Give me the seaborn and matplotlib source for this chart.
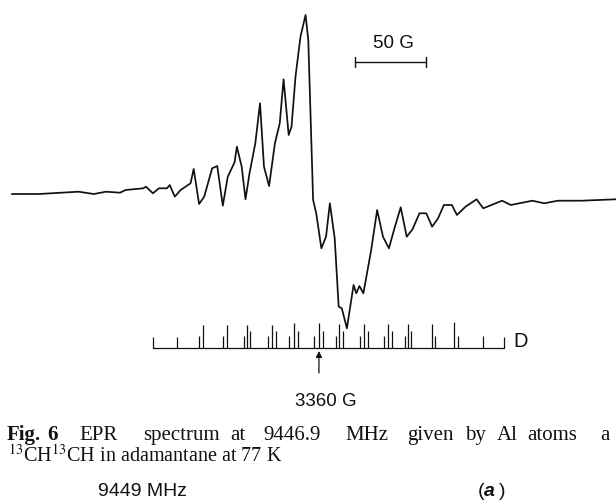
import matplotlib
matplotlib.use("Agg")
import matplotlib.pyplot as plt
import seaborn as sns
import pandas as pd

# ---- data -------------------------------------------------------------
field_G = [3143.7, 3162.8, 3190.7, 3201.5, 3210.0, 3219.9, 3223.9, 3236.3, 3238.2,
           3243.1, 3247.3, 3253.0, 3254.9, 3258.5, 3262.6, 3269.6, 3271.8, 3275.6,
           3279.2, 3284.8, 3288.4, 3292.3, 3295.8, 3300.6, 3302.2, 3305.6, 3308.3,
           3311.1, 3315.2, 3318.5, 3321.3, 3324.9, 3329.0, 3332.4, 3335.1, 3338.7,
           3340.7, 3343.5, 3347.0, 3350.6, 3352.5, 3355.9, 3358.1, 3361.7, 3365.0,
           3367.7, 3371.1, 3373.9, 3376.1, 3379.7, 3384.4, 3386.3, 3388.5, 3391.3,
           3396.8, 3401.0, 3405.1, 3409.3, 3413.5, 3417.6, 3421.8, 3425.9, 3430.8,
           3435.6, 3439.7, 3443.9, 3448.0, 3453.6, 3457.2, 3463.2, 3471.0, 3475.7,
           3489.0, 3495.1, 3510.3, 3518.6, 3528.3, 3544.9, 3569.2]
signal = [1.0, 1.0, 3.3, 1.0, 3.3, 2.3, 5.0, 6.7, 8.3,
          1.7, 6.7, 6.7, 10.0, -1.7, 5.0, 11.7, 26.0, -9.0,
          -1.7, 26.7, 29.0, -10.7, 18.3, 32.7, 48.3, 28.3, -4.3,
          21.7, 51.7, 91.7, 28.3, 9.0, 51.7, 71.7, 115.7, 60.0,
          68.3, 118.3, 158.3, 180.0, 155.0, -5.0, -18.3, -53.3, -41.7,
          -8.3, -43.3, -111.7, -113.3, -133.3, -90.0, -98.3, -91.0, -98.3,
          -55.0, -15.0, -41.7, -53.3, -31.7, -12.3, -41.7, -34.3, -18.3,
          -18.3, -31.7, -23.3, -10.0, -10.0, -20.0, -11.7, -4.3, -13.3,
          -5.7, -10.0, -5.7, -8.3, -5.7, -5.7, -4.3]

stick_G = [3243.1, 3260.0, 3275.5, 3278.3, 3292.4, 3295.2, 3307.2, 3309.3, 3311.4,
           3324.1, 3326.9, 3329.7, 3338.9, 3342.4, 3345.2, 3356.5, 3360.0, 3362.8,
           3372.0, 3374.1, 3376.9, 3388.9, 3391.7, 3394.5, 3405.8, 3408.6, 3411.4,
           3420.6, 3422.7, 3424.8, 3439.6, 3441.7, 3455.1, 3457.9, 3475.5, 3490.3]
stick_int = [11, 11, 12, 23, 12, 23, 12, 23, 17,
             12, 23, 17, 12, 25, 17, 12, 25, 17,
             12, 24, 17, 12, 24, 17, 12, 24, 17,
             12, 24, 17, 24, 12, 26, 12, 12, 11]

scale_bar_G = 50
marker_G = 3360

# ---- layout constants (px -> data) ------------------------------------
W, H = 616, 504
x_lo, x_hi = 3135.4, 3569.2
y_lo, y_hi = -309, 195
stick_base = -153

sns.set_theme(style="white")
plt.rcParams['font.family'] = ['Liberation Sans', 'DejaVu Sans']
plt.rcParams['mathtext.fontset'] = 'stix'

fig = plt.figure(figsize=(W / 100, H / 100), dpi=100)
ax = fig.add_axes([0, 0, 1, 1])
ax.set_xlim(x_lo, x_hi)
ax.set_ylim(y_lo, y_hi)
ax.axis('off')

ink = '#111111'
df = pd.DataFrame({'field': field_G, 'signal': signal})
sns.lineplot(data=df, x='field', y='signal', ax=ax, color=ink, lw=1.25,
             sort=False, estimator=None)

# stick diagram
base_df = pd.DataFrame({'field': [min(stick_G), max(stick_G)],
                        'signal': [stick_base, stick_base]})
sns.lineplot(data=base_df, x='field', y='signal', ax=ax, color=ink, lw=0.9,
             sort=False, estimator=None)
ax.vlines(stick_G, stick_base, [stick_base + h for h in stick_int],
          color=ink, lw=0.9)
ax.text(3502.3, -146, 'D', ha='center', va='center', fontsize=14.5, color=ink)

# marker arrow at 3360 G
ax.annotate('', xy=(marker_G, -156), xytext=(marker_G, -178),
            arrowprops=dict(arrowstyle='-|>', color=ink, lw=0.9,
                            mutation_scale=9, shrinkA=0, shrinkB=0))
ax.text(marker_G + 5, -206, f'{marker_G} G', ha='center', va='center',
        fontsize=13.5, color=ink)

# 50 G scale bar
sb_x0 = 3385.4
sb_y = 133
ax.plot([sb_x0, sb_x0 + scale_bar_G], [sb_y, sb_y], color=ink, lw=1.0)
for xx in (sb_x0, sb_x0 + scale_bar_G):
    ax.plot([xx, xx], [sb_y - 5, sb_y + 5], color=ink, lw=1.0)
ax.text(sb_x0 + scale_bar_G / 2 + 2, 151.5, f'{scale_bar_G} G', ha='center',
        va='center', fontsize=13.5, color=ink)

# caption
def fx(px):
    return px / W

def fy(py):
    return 1 - py / H

serif = ['Liberation Serif', 'DejaVu Serif']
words = [('Fig.', 7, 'bold'), ('6', 47, 'bold'), ('EPR', 79, 'normal'),
         ('spectrum', 143, 'normal'), ('at', 230, 'normal'),
         ('9446.9', 263, 'normal'), ('MHz', 345, 'normal'),
         ('given', 407, 'normal'), ('by', 465, 'normal'), ('Al', 497, 'normal'),
         ('atoms', 527, 'normal'), ('a', 600, 'normal')]
for w, px, wt in words:
    fig.text(fx(px), fy(440), w, ha='left', va='baseline', fontsize=15,
             family=serif, fontweight=wt, color=ink)
fig.text(fx(8), fy(462), r'$^{13}$CH$^{13}$CH in adamantane at 77 K',
         ha='left', va='baseline', fontsize=14.5, family=serif, color=ink)

fig.text(fx(142), fy(491), '9449 MHz', ha='center', va='center',
         fontsize=14, color=ink)
fig.text(fx(478), fy(496), '(', ha='left', va='baseline', fontsize=14, color=ink)
fig.text(fx(484), fy(496), 'a', ha='left', va='baseline', fontsize=14,
         fontstyle='italic', fontweight='bold', color=ink)
fig.text(fx(499), fy(496), ')', ha='left', va='baseline', fontsize=14, color=ink)

fig.savefig('out.png', dpi=100, facecolor='white')
